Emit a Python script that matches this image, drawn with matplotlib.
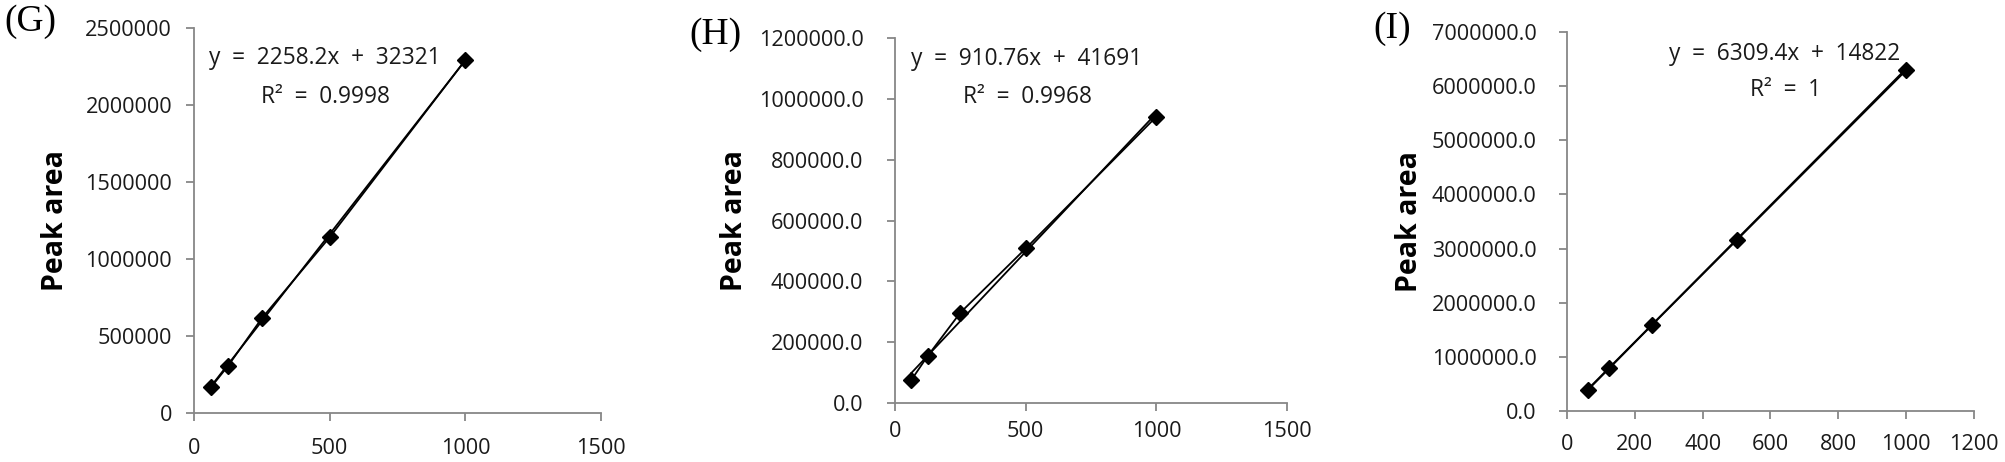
import matplotlib
matplotlib.use("Agg")
import matplotlib.pyplot as plt
import numpy as np

# concentrations (same for all three panels)
conc = [62.5, 125, 250, 500, 1000]

# peak areas
area_g = [167000, 305000, 615000, 1141000, 2292000]
area_h = [75600, 154500, 296900, 508000, 941200]
area_i = [395000, 789000, 1583000, 3153000, 6293000]

# trendline coefficients shown on the chart
slope = [2258.2, 910.76, 6309.4]
icept = [32321, 41691, 14822]
r2 = ["0.9998", "0.9968", "1"]
letters = ["(G)", "(H)", "(I)"]

plt.rcParams["font.family"] = ["Open Sans", "DejaVu Sans"]

fig = plt.figure(figsize=(20.06, 4.62), dpi=100)

# axes boxes in pixels: left, right, top, bottom
boxes = [(194, 601, 28, 413), (895, 1287, 38, 403), (1567, 1974, 32, 411)]
W, H = 2006, 462

panels = [
    dict(y=area_g, xlim=1500, xt=[0, 500, 1000, 1500], ylim=2500000, ystep=500000, yfmt="{:.0f}",
         eq=(483, 2305000, 2052000), xpad=12.3, ypad=10, lab=56),
    dict(y=area_h, xlim=1500, xt=[0, 500, 1000, 1500], ylim=1200000, ystep=200000, yfmt="{:.1f}",
         eq=(505, 1131000, 1006000), xpad=7.2, ypad=17, lab=735),
    dict(y=area_i, xlim=1200, xt=[0, 200, 400, 600, 800, 1000, 1200], ylim=7000000, ystep=1000000,
         yfmt="{:.1f}", eq=(643, 6590000, 5930000), xpad=10.8, ypad=16, lab=1410),
]
letter_pos = [(30, 22), (715, 35), (1392, 29)]

axis_col = "#878787"
txt_col = "#1a1a1a"

for k, p in enumerate(panels):
    l, r, t, b = boxes[k]
    ax = fig.add_axes([l / W, 1 - b / H, (r - l) / W, (b - t) / H])

    x = np.array(conc)
    fit = slope[k] * x + icept[k]
    ax.plot(conc, fit, color="black", lw=1.3, zorder=2)
    ax.plot(conc, p["y"], color="black", lw=1.3, marker="D", ms=8, zorder=3)

    ax.set_xlim(0, p["xlim"])
    ax.set_ylim(0, p["ylim"])
    ax.set_xticks(p["xt"])
    yt = np.arange(0, p["ylim"] + 1, p["ystep"])
    ax.set_yticks(yt)
    ax.set_yticklabels([p["yfmt"].format(v) for v in yt])

    for s in ["top", "right"]:
        ax.spines[s].set_visible(False)
    for s in ["left", "bottom"]:
        ax.spines[s].set_color(axis_col)
        ax.spines[s].set_linewidth(1.3)
    ax.tick_params(axis="both", colors=axis_col, length=5.8, width=1.3,
                   labelsize=15.6, labelcolor=txt_col)
    ax.tick_params(axis="x", pad=p["xpad"])
    ax.tick_params(axis="y", pad=p["ypad"])

    ax.text(p["eq"][0], p["eq"][1], f"y  =  {slope[k]}x  +  {icept[k]}",
            ha="center", va="center", fontsize=16.3, color=txt_col)
    ax.text(p["eq"][0], p["eq"][2], f"R²  =  {r2[k]}",
            ha="center", va="center", fontsize=16.3, color=txt_col)

    fig.text(p["lab"] / W, 1 - ((t + b) / 2) / H, "Peak area", rotation=90,
             ha="center", va="center", fontsize=20.5, fontweight="bold", color="black")

    lx, ly = letter_pos[k]
    fig.text(lx / W, 1 - ly / H, letters[k], ha="center", va="center",
             fontsize=27, family="Liberation Serif", color="black")

fig.savefig("out.png", dpi=100)
